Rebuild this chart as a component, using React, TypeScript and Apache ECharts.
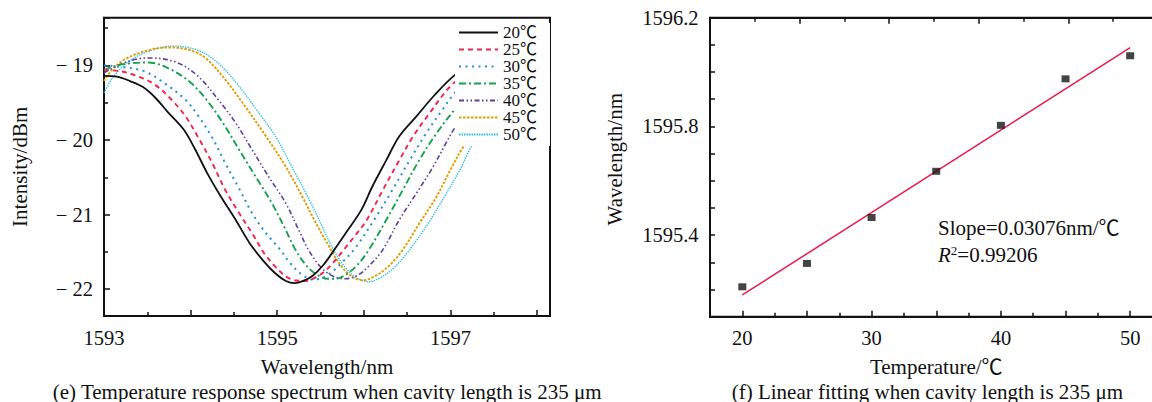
import React, { useEffect, useRef } from "react";
import * as echarts from "echarts";

// ---------- data ----------
const LEGEND_LABELS = ["20℃", "25℃", "30℃", "35℃", "40℃", "45℃", "50℃"];

const SPEC_20: [number, number][] = [
  [1593.0, -19.14], [1593.15, -19.15], [1593.3, -19.21], [1593.45, -19.29], [1593.59, -19.43],
  [1593.74, -19.63], [1593.92, -19.86], [1594.05, -20.12], [1594.19, -20.44], [1594.34, -20.74],
  [1594.52, -21.07], [1594.68, -21.38], [1594.84, -21.62], [1594.98, -21.79], [1595.1, -21.89],
  [1595.2, -21.92], [1595.3, -21.89], [1595.41, -21.82], [1595.53, -21.68], [1595.66, -21.47],
  [1595.79, -21.25], [1595.97, -20.94], [1596.1, -20.62], [1596.26, -20.27], [1596.41, -19.95],
  [1596.61, -19.68], [1596.8, -19.42], [1597.05, -19.13], [1597.3, -18.95], [1597.55, -18.92],
  [1597.85, -19.1], [1598.15, -19.5],
];
const SPEC_25: [number, number][] = [
  [1593.0, -19.06], [1593.2, -19.08], [1593.4, -19.15], [1593.59, -19.26], [1593.78, -19.46],
  [1593.94, -19.68], [1594.09, -19.97], [1594.25, -20.31], [1594.4, -20.67], [1594.56, -20.98],
  [1594.71, -21.25], [1594.85, -21.52], [1594.98, -21.7], [1595.1, -21.83], [1595.2, -21.88],
  [1595.33, -21.89], [1595.45, -21.84], [1595.55, -21.76], [1595.65, -21.64], [1595.77, -21.47],
  [1595.9, -21.28], [1596.03, -21.08], [1596.22, -20.67], [1596.41, -20.27], [1596.57, -19.95],
  [1596.76, -19.64], [1597.0, -19.28], [1597.3, -19.0], [1597.6, -18.9], [1597.9, -18.98],
  [1598.15, -19.2],
];
const SPEC_30: [number, number][] = [
  [1593.0, -19.0], [1593.2, -19.02], [1593.47, -19.08], [1593.7, -19.24], [1593.94, -19.46],
  [1594.09, -19.68], [1594.25, -19.97], [1594.4, -20.31], [1594.56, -20.65], [1594.71, -20.98],
  [1594.87, -21.25], [1595.02, -21.45], [1595.15, -21.65], [1595.28, -21.8], [1595.41, -21.87],
  [1595.52, -21.85], [1595.63, -21.77], [1595.75, -21.64], [1595.9, -21.45], [1596.12, -21.07],
  [1596.33, -20.67], [1596.53, -20.27], [1596.72, -19.91], [1596.91, -19.59], [1597.05, -19.37],
  [1597.3, -19.1], [1597.6, -18.95],
];
const SPEC_35: [number, number][] = [
  [1593.0, -19.06], [1593.15, -19.0], [1593.32, -18.97], [1593.51, -18.96], [1593.78, -19.06],
  [1594.01, -19.24], [1594.21, -19.5], [1594.4, -19.82], [1594.56, -20.13], [1594.75, -20.49],
  [1594.94, -20.85], [1595.1, -21.21], [1595.2, -21.45], [1595.32, -21.66], [1595.45, -21.8],
  [1595.58, -21.86], [1595.68, -21.86], [1595.8, -21.8], [1595.93, -21.67], [1596.06, -21.47],
  [1596.26, -21.07], [1596.45, -20.67], [1596.64, -20.27], [1596.84, -19.91], [1597.05, -19.59],
  [1597.3, -19.25], [1597.6, -19.0],
];
const SPEC_40: [number, number][] = [
  [1593.0, -19.1], [1593.2, -18.98], [1593.4, -18.91], [1593.55, -18.9], [1593.86, -18.97],
  [1594.09, -19.15], [1594.32, -19.46], [1594.52, -19.77], [1594.71, -20.13], [1594.9, -20.49],
  [1595.1, -20.85], [1595.25, -21.21], [1595.36, -21.47], [1595.5, -21.7], [1595.65, -21.83],
  [1595.79, -21.86], [1595.92, -21.82], [1596.05, -21.7], [1596.22, -21.47], [1596.41, -21.07],
  [1596.61, -20.71], [1596.8, -20.36], [1596.95, -20.04], [1597.05, -19.84], [1597.3, -19.5],
  [1597.6, -19.2],
];
const SPEC_45: [number, number][] = [
  [1593.0, -19.21], [1593.1, -19.05], [1593.24, -18.92], [1593.47, -18.81], [1593.74, -18.76],
  [1593.98, -18.79], [1594.17, -18.9], [1594.4, -19.19], [1594.63, -19.55], [1594.87, -19.95],
  [1595.1, -20.36], [1595.29, -20.76], [1595.45, -21.12], [1595.6, -21.43], [1595.72, -21.66],
  [1595.85, -21.82], [1595.99, -21.88], [1596.12, -21.83], [1596.28, -21.7], [1596.45, -21.47],
  [1596.64, -21.12], [1596.84, -20.76], [1597.0, -20.4], [1597.15, -20.09], [1597.4, -19.7],
  [1597.6, -19.45],
];
const SPEC_50: [number, number][] = [
  [1593.0, -19.37], [1593.11, -19.15], [1593.32, -18.92], [1593.59, -18.78], [1593.8, -18.74],
  [1594.09, -18.8], [1594.32, -18.97], [1594.56, -19.28], [1594.79, -19.64], [1594.98, -19.95],
  [1595.17, -20.36], [1595.37, -20.8], [1595.52, -21.16], [1595.64, -21.45], [1595.78, -21.7],
  [1595.92, -21.85], [1596.06, -21.9], [1596.2, -21.84], [1596.36, -21.7], [1596.53, -21.47],
  [1596.72, -21.16], [1596.91, -20.8], [1597.11, -20.4], [1597.24, -20.09], [1597.5, -19.65],
  [1597.7, -19.4],
];
const SPECTRA = [SPEC_20, SPEC_25, SPEC_30, SPEC_35, SPEC_40, SPEC_45, SPEC_50];

const TEMPS = [20, 25, 30, 35, 40, 45, 50];
const DIP_WAVELENGTHS = [1595.21, 1595.296, 1595.465, 1595.635, 1595.804, 1595.975, 1596.06];

const SLOPE_TEXT = "Slope=0.03076nm/℃";
const R2_TEXT = "0.99206";
const CAPTION_E = "(e) Temperature response spectrum when cavity length is 235 μm";
const CAPTION_F = "(f) Linear fitting when cavity length is 235 μm";

// ---------- styles ----------
const FONT = "'Liberation Serif', 'Times New Roman', 'Noto Sans CJK SC', serif";
const INK = "#111";
const LINE_STYLES = [
  { color: "#111111", type: "solid" as any, width: 1.8 },
  { color: "#f0264c", type: [5, 4], width: 1.9 },
  { color: "#1e8fe0", type: [2, 4.5], width: 2 },
  { color: "#14a24e", type: [7, 3, 2, 3], width: 1.9 },
  { color: "#5b3f9e", type: [5, 2.5, 1.5, 2.5, 1.5, 2.5], width: 1.6 },
  { color: "#e39c00", type: [2.5, 1.5], width: 1.9 },
  { color: "#2cc0e2", type: [1.5, 1], width: 1.3 },
];

function linearFit(xs: number[], ys: number[]) {
  const n = xs.length;
  const mx = xs.reduce((a, b) => a + b, 0) / n;
  const my = ys.reduce((a, b) => a + b, 0) / n;
  let sxy = 0, sxx = 0;
  for (let i = 0; i < n; i++) {
    sxy += (xs[i] - mx) * (ys[i] - my);
    sxx += (xs[i] - mx) * (xs[i] - mx);
  }
  const b = sxy / sxx;
  return { a: my - b * mx, b };
}

const isInt = (v: number) => Math.abs(v - Math.round(v)) < 1e-6;

export default function App() {
  const ref = useRef<HTMLDivElement>(null);
  useEffect(() => {
    const chart = echarts.init(ref.current!, null, { renderer: "svg" });
    const fit = linearFit(TEMPS, DIP_WAVELENGTHS);
    const x0 = TEMPS[0];
    const x1 = TEMPS[TEMPS.length - 1];

    const tickLine = { color: INK, width: 1.5 };
    const axisLine = { show: true, onZero: false, lineStyle: { color: INK, width: 2 } };
    const label = { color: INK, fontFamily: FONT, fontSize: 20.5 };
    const nameStyle = { color: INK, fontFamily: FONT, fontSize: 21 };

    const option: any = {
      animation: false,
      backgroundColor: "#fff",
      grid: [
        { left: 104, top: 17.7, width: 446, height: 298.3, show: true, borderColor: INK, borderWidth: 2, backgroundColor: "transparent", containLabel: false },
        { left: 710, top: 17.7, width: 452.5, height: 299, show: true, borderColor: INK, borderWidth: 2, backgroundColor: "transparent", containLabel: false },
      ],
      xAxis: [
        {
          gridIndex: 0, type: "value", min: 1593, max: 1598.15, splitNumber: 5,
          axisLine, splitLine: { show: false },
          axisTick: { show: true, inside: true, length: 6, lineStyle: tickLine },
          minorTick: { show: true, splitNumber: 2, length: 4, lineStyle: tickLine },
          axisLabel: { ...label, margin: 12, formatter: (v: number) => (isInt(v) && Math.round(v - 1593) % 2 === 0 ? String(Math.round(v)) : "") },
          name: "Wavelength/nm", nameLocation: "middle", nameGap: 40, nameTextStyle: nameStyle,
        },
        {
          gridIndex: 1, type: "value", min: 17.5, max: 52.5, splitNumber: 7,
          axisLine, splitLine: { show: false },
          axisTick: { show: true, inside: true, length: 6, lineStyle: tickLine },
          minorTick: { show: true, splitNumber: 2, length: 4, lineStyle: tickLine },
          axisLabel: { ...label, margin: 11.5, formatter: (v: number) => (isInt(v) && Math.round(v) % 10 === 0 ? String(Math.round(v)) : "") },
          name: "Temperature/℃", nameLocation: "middle", nameGap: 40, nameTextStyle: nameStyle,
        },
        {
          gridIndex: 1, type: "value", position: "top", min: 0, max: 5.05, splitNumber: 5,
          axisLine, splitLine: { show: false },
          axisTick: { show: true, inside: true, length: 6, lineStyle: tickLine },
          minorTick: { show: true, splitNumber: 2, length: 4, lineStyle: tickLine },
          axisLabel: { show: false },
        },
      ],
      yAxis: [
        {
          gridIndex: 0, type: "value", min: -22.36, max: -18.36, splitNumber: 4,
          axisLine, splitLine: { show: false },
          axisTick: { show: true, inside: true, length: 6, lineStyle: tickLine },
          minorTick: { show: true, splitNumber: 2, length: 4, lineStyle: tickLine },
          axisLabel: { ...label, margin: 11, formatter: (v: number) => (isInt(v) ? "\u2212 " + Math.abs(Math.round(v)) : "") },
          name: "Intensity/dBm", nameLocation: "middle", nameGap: 73.5, nameTextStyle: nameStyle,
        },
        {
          gridIndex: 1, type: "value", min: 1595.1, max: 1596.2, splitNumber: 11,
          axisLine, splitLine: { show: false },
          axisTick: { show: true, inside: true, length: 5, lineStyle: tickLine },
          minorTick: { show: false },
          axisLabel: { ...label, margin: 11.5, formatter: (v: number) => (Math.round(v * 10) % 4 === 2 && Math.abs(v * 10 - Math.round(v * 10)) < 1e-4 ? v.toFixed(1) : "") },
          name: "Wavelength/nm", nameLocation: "middle", nameGap: 84.5,
          nameTextStyle: { ...nameStyle, padding: [0, 0, 0, 16] },
        },
      ],
      legend: {
        orient: "vertical", left: 455, top: 23, padding: [1, 13, 3, 3], itemGap: 0,
        itemWidth: 39, itemHeight: 10, backgroundColor: "#fff",
        itemStyle: { opacity: 0, borderWidth: 0 },
        data: LEGEND_LABELS,
        textStyle: { fontFamily: FONT, fontSize: 17, color: INK },
      },
      series: [
        ...SPECTRA.map((d, i) => ({
          name: LEGEND_LABELS[i], type: "line", xAxisIndex: 0, yAxisIndex: 0,
          data: d, symbol: "none", showSymbol: false, smooth: 0.35,
          lineStyle: LINE_STYLES[i], itemStyle: { color: LINE_STYLES[i].color },
          z: 2 + (SPECTRA.length - i) * 0.01,
        })),
        {
          name: "fit", type: "line", xAxisIndex: 1, yAxisIndex: 1,
          data: [[x0, fit.a + fit.b * x0], [x1, fit.a + fit.b * x1]],
          symbol: "none", lineStyle: { color: "#e8194c", width: 1.5 }, z: 3,
        },
        {
          name: "points", type: "scatter", xAxisIndex: 1, yAxisIndex: 1,
          data: TEMPS.map((t, i) => [t, DIP_WAVELENGTHS[i]]),
          symbol: "rect", symbolSize: [8, 7], itemStyle: { color: "#151515" }, z: 4,
        },
      ],
      graphic: [
        { type: "text", x: 938, y: 228, style: { text: SLOPE_TEXT, fill: INK, font: `21px ${FONT}`, verticalAlign: "middle", align: "left" } },
        {
          type: "text", x: 938, y: 255,
          style: {
            text: `{i|R}{s|2}{n|=${R2_TEXT}}`, verticalAlign: "middle", align: "left",
            rich: {
              i: { fontFamily: FONT, fontSize: 21, fontStyle: "italic", fill: INK, color: INK },
              s: { fontFamily: FONT, fontSize: 13, fill: INK, color: INK, padding: [0, 0, 9, 0] },
              n: { fontFamily: FONT, fontSize: 21, fill: INK, color: INK },
            },
          },
        },
        { type: "text", x: 52.7, y: 391.5, style: { text: CAPTION_E, fill: INK, font: `21px ${FONT}`, verticalAlign: "middle", align: "left" } },
        { type: "text", x: 731.7, y: 391.5, style: { text: CAPTION_F, fill: INK, font: `21px ${FONT}`, verticalAlign: "middle", align: "left" } },
      ],
    };
    chart.setOption(option);
    return () => chart.dispose();
  }, []);

  return (
    <div style={{ position: "fixed", left: 0, top: 0, width: 1152, height: 402, overflow: "hidden", background: "#fff" }}>
      <div ref={ref} style={{ width: 1170, height: 402 }} />
    </div>
  );
}
